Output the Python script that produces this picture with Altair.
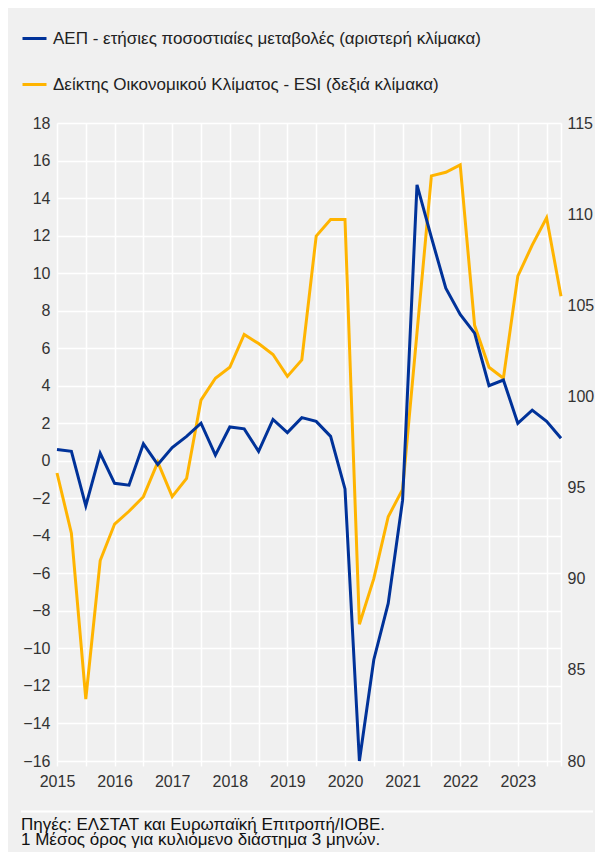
import altair as alt
import pandas as pd

FONT = "Liberation Sans"
BLUE = "#003299"
YELLOW = "#FFB400"
BG = "#F0F0F0"

GDP_NAME = "ΑΕΠ - ετήσιες ποσοστιαίες μεταβολές (αριστερή κλίμακα)"
ESI_NAME = "Δείκτης Οικονομικού Κλίματος - ESI (δεξιά κλίμακα)"

years = ["2015", "2016", "2017", "2018", "2019", "2020", "2021", "2022", "2023"]
quarters = ["Q1", "Q2", "Q3", "Q4"]

# GDP, annual % change (left scale), quarterly 2015Q1-2023Q4
gdp = [0.6, 0.5, -2.4, 0.4, -1.2, -1.3, 0.9, -0.2,
       0.7, 1.3, 2.0, 0.3, 1.8, 1.7, 0.5, 2.2,
       1.5, 2.3, 2.1, 1.3, -1.5, -16.0, -10.6, -7.6,
       -2.1, 14.7, 11.9, 9.2, 7.8, 6.8, 4.0, 4.3,
       2.0, 2.7, 2.1, 1.2]

# Economic Sentiment Indicator (right scale)
esi = [95.8, 92.5, 83.4, 91.0, 93.0, 93.7, 94.5, 96.4,
       94.5, 95.5, 99.8, 101.0, 101.6, 103.4, 102.9, 102.3,
       101.1, 102.0, 108.8, 109.7, 109.7, 87.5, 90.0, 93.4,
       94.9, 103.5, 112.1, 112.3, 112.7, 103.9, 101.6, 101.0,
       106.6, 108.3, 109.8, 105.5]

footer = ["Πηγές: ΕΛΣΤΑΤ και Ευρωπαϊκή Επιτροπή/ΙΟΒΕ.",
          "1 Μέσος όρος για κυλιόμενο διάστημα 3 μηνών."]

labels = [f"{y}{q}" for y in years for q in quarters]
rows = []
for i, lab in enumerate(labels):
    rows.append({"t": i, "period": lab, "series": GDP_NAME, "value": gdp[i]})
    rows.append({"t": i, "series": ESI_NAME, "period": lab, "value": esi[i]})
df = pd.DataFrame(rows)

n = len(labels)

color = alt.Color(
    "series:N",
    scale=alt.Scale(domain=[GDP_NAME, ESI_NAME], range=[BLUE, YELLOW]),
    legend=alt.Legend(
        title=None, orient="none", legendX=-36, legendY=-98,
        direction="vertical", symbolType="stroke", symbolSize=576,
        symbolStrokeWidth=3, labelFontSize=17, labelFont=FONT,
        labelColor="#222222", rowPadding=24, labelOffset=5,
        labelLimit=700, padding=0,
    ),
)

x = alt.X(
    "t:Q",
    scale=alt.Scale(domain=[0, n - 1], nice=False, zero=False),
    axis=alt.Axis(
        values=list(range(0, n, 2)) + [n - 1],
        labelExpr="datum.value % 4 == 0 ? toString(2015 + datum.value / 4) : ''",
        grid=True, gridColor="white", gridWidth=1.5,
        domain=False, ticks=True, tickColor="white", tickSize=5, tickWidth=1.5,
        labelFontSize=16, labelFont=FONT, labelColor="#333333",
        labelPadding=7, labelFlush=False, labelOverlap=False, title=None,
    ),
)

base = alt.Chart(df)

gdp_line = base.transform_filter(alt.datum.series == GDP_NAME).mark_line(
    strokeWidth=3
).encode(
    x=x,
    y=alt.Y(
        "value:Q",
        scale=alt.Scale(domain=[-16, 18], nice=False, zero=False),
        axis=alt.Axis(
            orient="left", values=list(range(-16, 19, 2)),
            grid=True, gridColor="white", gridWidth=1.5,
            domain=False, ticks=False, labelFontSize=16, labelFont=FONT,
            labelColor="#333333", labelPadding=7, labelFlush=False, title=None,
        ),
    ),
    color=color,
)

esi_line = base.transform_filter(alt.datum.series == ESI_NAME).mark_line(
    strokeWidth=3
).encode(
    x=x,
    y=alt.Y(
        "value:Q",
        scale=alt.Scale(domain=[80, 115], nice=False, zero=False),
        axis=alt.Axis(
            orient="right", values=list(range(80, 116, 5)),
            grid=False, domain=False, ticks=False, labelFontSize=16,
            labelFont=FONT, labelColor="#333333", labelPadding=6,
            labelFlush=False, title=None,
        ),
    ),
    color=color,
)

separator = alt.Chart(alt.Data(values=[{"k": 1}])).mark_rule(
    color="white", strokeWidth=2
).encode(x=alt.value(-36), x2=alt.value(536), y=alt.value(688.5))

chart = alt.layer(esi_line, gdp_line, separator).resolve_scale(
    y="independent"
).properties(
    width=504,
    height=638,
    autosize=alt.AutoSizeParams(type="none"),
    padding={"left": 49, "top": 115, "right": 34, "bottom": 91},
    title=alt.TitleParams(
        text=footer, orient="bottom", anchor="start", frame="group",
        fontSize=17, font=FONT, fontWeight="normal", color="#111111",
        lineHeight=15.5, dx=-36, offset=4,
    ),
).configure(
    background=BG,
).configure_view(
    stroke=None,
)

chart.save("out.html", embed_options={"renderer": "svg", "actions": False})
